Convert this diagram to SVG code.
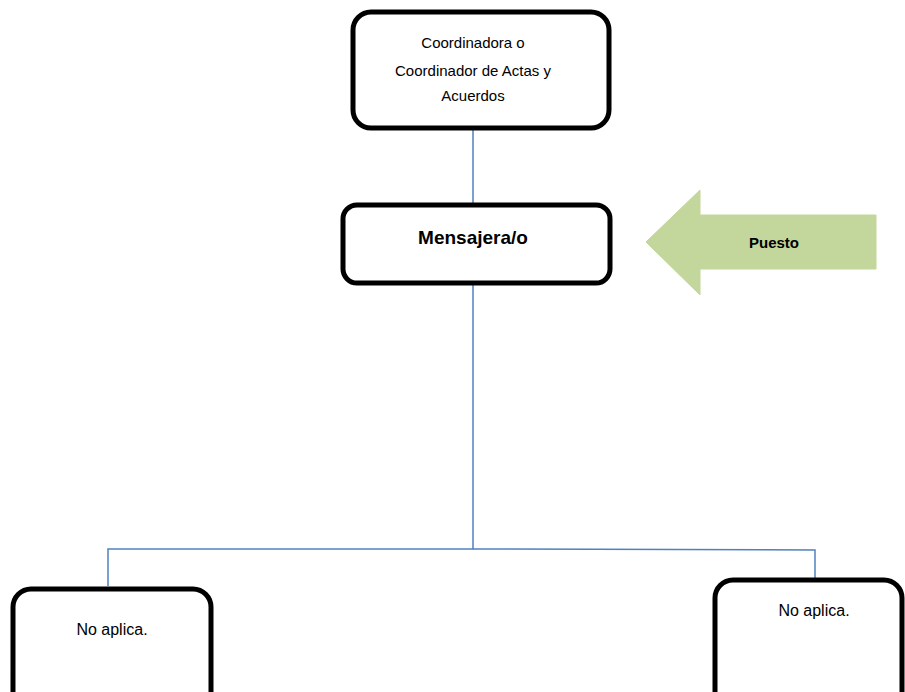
<svg xmlns="http://www.w3.org/2000/svg" width="905" height="692" viewBox="0 0 905 692">
<style>
.box{fill:#fff;stroke:#000;stroke-width:5}
.t{font-family:"Liberation Sans",Arial,sans-serif;font-size:15px;fill:#000;text-anchor:middle}
.b{font-weight:bold}
.na{font-size:16px}
.c{fill:none;stroke:#4F81BD;stroke-width:1.5}
</style>
<rect width="905" height="692" fill="#fff"/>
<g id="connectors">
<line class="c" x1="473" y1="130" x2="473" y2="205"/>
<polyline class="c" points="473,284 473,549 108,549 108,586"/>
<polyline class="c" points="473,549 815,550 815,581"/>
</g>
<g id="n1">
<rect class="box" x="353" y="12" width="256" height="116" rx="18"/>
<text class="t" x="473" y="48">Coordinadora o</text>
<text class="t" x="473" y="76">Coordinador de Actas y</text>
<text class="t" x="473" y="101">Acuerdos</text>
</g>
<g id="n2">
<rect class="box" x="343" y="205" width="267" height="78" rx="14"/>
<text class="t b" x="473" y="244" style="font-size:19px">Mensajera/o</text>
</g>
<g id="puesto">
<path d="M646,242 L700,190 L700,215 L876,215 L876,269 L700,269 L700,295 Z" fill="#C3D69B" stroke="#C3D69B" stroke-width="1" stroke-linejoin="round"/>
<text class="t b" x="774" y="248">Puesto</text>
</g>
<g id="n3">
<rect class="box" x="13" y="589" width="198" height="130" rx="18"/>
<text class="t na" x="112" y="635">No aplica.</text>
</g>
<g id="n4">
<rect class="box" x="715" y="580" width="187" height="140" rx="18"/>
<text class="t na" x="814" y="616">No aplica.</text>
</g>
</svg>
